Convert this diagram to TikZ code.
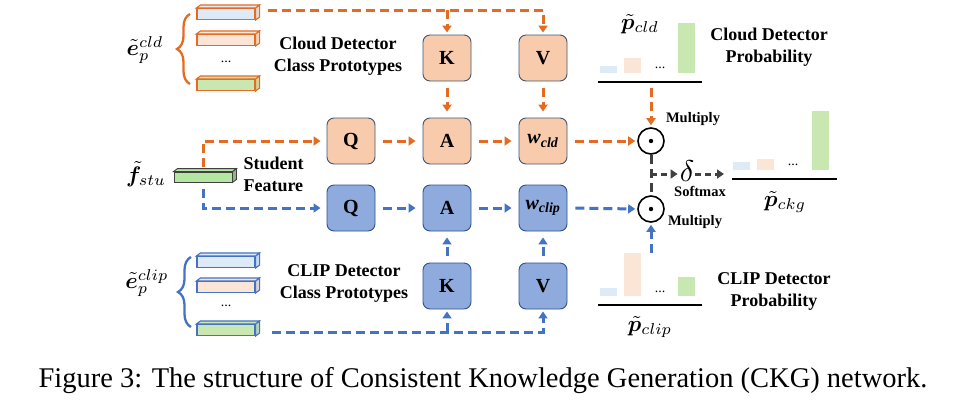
\documentclass[tikz,border=0pt]{standalone}
\usepackage{amsmath,bm}
\usepackage{fontspec}
\setmainfont{Liberation Serif}
\usetikzlibrary{arrows.meta,calc,decorations.pathreplacing}
\definecolor{oline}{HTML}{E46C22}
\definecolor{bline}{HTML}{4472C4}
\definecolor{opeach}{HTML}{F8CBAD}
\definecolor{bfill}{HTML}{8FAADC}
\definecolor{oborder}{HTML}{44546A}
\definecolor{bborder}{HTML}{2F528F}
\definecolor{lblue}{HTML}{DEEBF7}
\definecolor{lpeach}{HTML}{FBE5D6}
\definecolor{lgreen}{HTML}{C9E7B0}
\definecolor{sgreen}{HTML}{B4E5A2}
\definecolor{dgray}{HTML}{404040}
\newcommand{\mylbl}[1]{\scalebox{2.25}{$#1$}}
\begin{document}
\begin{tikzpicture}[x=1pt,y=-1pt,
  obox/.style={draw=oborder,fill=opeach,line width=0.9pt,rounded corners=7pt,minimum width=48pt,minimum height=46pt,inner sep=0pt,font=\bfseries\fontsize{20}{22}\selectfont},
  bbox/.style={obox,draw=bborder,fill=bfill},
  tipo/.style={-{Triangle[length=7pt,width=9pt]}},
  odash/.style={draw=oline,line width=3pt,dash pattern=on 9pt off 5pt,tipo},
  bdash/.style={odash,draw=bline},
  gdash/.style={odash,draw=dgray},
  pbar/.style={draw=#1,line width=1.1pt,minimum width=58pt,minimum height=11pt,inner sep=0pt},
  lbl/.style={font=\bfseries\fontsize{18}{22}\selectfont,align=center},
  small/.style={font=\bfseries\fontsize{14.5}{16}\selectfont},
  mlab/.style={font=\normalsize,inner sep=1pt},
  odotn/.style={circle,draw=black,line width=1.6pt,minimum size=26pt,inner sep=0pt},
  chartbar/.style={draw=none,minimum width=17pt,inner sep=0pt,anchor=south},
  baseln/.style={line width=2.2pt,draw=black},
  bracel/.style={line width=2.3pt,decorate,decoration={brace,amplitude=13pt}}
]
\useasboundingbox (0,0) rectangle (966,408);

% ---------- cloud prototypes ----------
\node[pbar=oline,fill=lblue]  (cb1) at (226,14) {};
\node[pbar=oline,fill=lpeach] (cb2) at (226,40) {};
\node[font=\fontsize{14}{14}\selectfont] (cdots) at (226,62) {...};
\node[pbar=oline,fill=lgreen] (cb3) at (226,85) {};
\foreach \b/\f in {cb1/lblue,cb2/lpeach,cb3/lgreen}{
  \draw[draw=oline,line width=1.1pt,fill=\f!85!oline] (\b.north east) -- ++(4,-3) -- ($(\b.south east)+(4,-3)$) -- (\b.south east) -- cycle;
  \draw[draw=oline,line width=1.1pt,fill=\f] (\b.north west) -- ++(4,-3) -- ($(\b.north east)+(4,-3)$) -- (\b.north east) -- cycle;
}
\coordinate (cbr1) at (190,84);
\coordinate (cbr2) at (190,14);
\draw[draw=oline,bracel] (cbr1) -- (cbr2);
\node[mlab] (ecld) at (145,50) {\mylbl{\tilde{\bm{e}}_p^{cld}}};
\node[lbl] (cldtxt) at (338,56) {Cloud Detector\\Class Prototypes};

% ---------- clip prototypes ----------
\node[pbar=bline,fill=lblue]  (pb1) at (226,262) {};
\node[pbar=bline,fill=lpeach] (pb2) at (226,287) {};
\node[font=\fontsize{14}{14}\selectfont] (pdots) at (226,306) {...};
\node[pbar=bline,fill=lgreen] (pb3) at (226,330) {};
\foreach \b/\f in {pb1/lblue,pb2/lpeach,pb3/lgreen}{
  \draw[draw=bline,line width=1.1pt,fill=\f!85!bline] (\b.north east) -- ++(4,-3) -- ($(\b.south east)+(4,-3)$) -- (\b.south east) -- cycle;
  \draw[draw=bline,line width=1.1pt,fill=\f] (\b.north west) -- ++(4,-3) -- ($(\b.north east)+(4,-3)$) -- (\b.north east) -- cycle;
}
\coordinate (pbr1) at (191,327);
\coordinate (pbr2) at (191,257);
\draw[draw=bline,bracel] (pbr1) -- (pbr2);
\node[mlab] (eclip) at (147,283) {\mylbl{\tilde{\bm{e}}_p^{clip}}};
\node[lbl] (cliptxt) at (344,283) {CLIP Detector\\Class Prototypes};

% ---------- student feature ----------
\node[draw=dgray,fill=sgreen,line width=0.9pt,minimum width=58pt,minimum height=10pt,inner sep=0pt] (stu) at (203,177) {};
\draw[draw=dgray,line width=0.9pt,fill=sgreen!80!black] (stu.north east) -- ++(4,-3) -- ($(stu.south east)+(4,-3)$) -- (stu.south east) -- cycle;
\draw[draw=dgray,line width=0.9pt,fill=sgreen] (stu.north west) -- ++(4,-3) -- ($(stu.north east)+(4,-3)$) -- (stu.north east) -- cycle;
\node[mlab] (fstu) at (146,174) {\mylbl{\tilde{\bm{f}}_{stu}}};
\node[lbl,align=left,anchor=west] (stutxt) at (240,174) {Student\\Feature};

% ---------- boxes ----------
\node[obox] (Qo) at (351,141) {Q};
\node[obox] (Ao) at (447,141) {A};
\node[obox] (Wo) at (543,141) {\textit{w}\textsubscript{\textit{cld}}};
\node[obox] (Ko) at (447,58) {K};
\node[obox] (Vo) at (543,58) {V};
\node[bbox] (Qb) at (351,208) {Q};
\node[bbox] (Ab) at (447,208) {A};
\node[bbox] (Wb) at (543,208) {\textit{w}\textsubscript{\textit{clip}}};
\node[bbox] (Kb) at (447,286) {K};
\node[bbox] (Vb) at (543,286) {V};

% ---------- orange connections ----------
\coordinate (otop) at (268,10);
\draw[odash,shorten >=2pt] (otop) -| (Vo.north);
\draw[odash,shorten >=2pt] (Ko.north |- otop) -- (Ko.north);
\draw[odash,shorten <=7pt,shorten >=6pt] (Ko.south) -- (Ao.north);
\draw[odash,shorten <=7pt,shorten >=6pt] (Vo.south) -- (Wo.north);
\draw[odash,shorten <=5pt,shorten >=6pt] (stu.north) |- (Qo.west);
\draw[odash,shorten <=8pt,shorten >=7pt] (Qo.east) -- (Ao.west);
\draw[odash,shorten <=8pt,shorten >=7pt] (Ao.east) -- (Wo.west);

% ---------- blue connections ----------
\coordinate (bbot) at (272,332);
\draw[bdash,shorten >=2pt] (bbot) -| (Vb.south);
\draw[bdash,shorten >=2pt] (Kb.south |- bbot) -- (Kb.south);
\draw[bdash,shorten <=7pt,shorten >=6pt] (Kb.north) -- (Ab.south);
\draw[bdash,shorten <=7pt,shorten >=6pt] (Vb.north) -- (Wb.south);
\draw[bdash,shorten <=7pt,shorten >=6pt] (stu.south) |- (Qb.west);
\draw[bdash,shorten <=8pt,shorten >=7pt] (Qb.east) -- (Ab.west);
\draw[bdash,shorten <=8pt,shorten >=7pt] (Ab.east) -- (Wb.west);

% ---------- multiply nodes ----------
\node[odotn] (mo) at (651,141) {};
\fill (mo.center) circle (2.2pt);
\node[odotn] (mb) at (651,209) {};
\fill (mb.center) circle (2.2pt);
\draw[odash,shorten <=8pt,shorten >=2pt] (Wo.east) -- (mo.west);
\draw[bdash,shorten <=8pt,shorten >=2pt] (Wb.east) -- (mb.west);
\node[small] (mult1) at (693,119) {Multiply};
\node[small] (mult2) at (695,222) {Multiply};

% ---------- softmax ----------
\node[mlab] (delta) at (687,171) {\scalebox{3}{$\delta$}};
\coordinate (gj) at (651,174);
\draw[odash,draw=dgray,-] (mo.south) -- (mb.north);
\draw[gdash,dash pattern=on 6pt off 4pt,shorten >=1pt] (gj) -- (delta.west |- gj);
\node[small] (soft) at (700,191) {Softmax};

% ---------- cloud probability chart ----------
\coordinate (cpl) at (598,82);
\coordinate (cpr) at (702,82);
\draw[baseln] (cpl) -- (cpr);
\node[chartbar,fill=lblue,minimum height=7pt]  (cpb1) at (608.5,73) {};
\node[chartbar,fill=lpeach,minimum height=15pt] (cpb2) at (632.5,73) {};
\node[font=\fontsize{14}{14}\selectfont] (cpd) at (660,68) {...};
\node[chartbar,fill=lgreen,minimum height=50pt] (cpb3) at (686.5,73) {};
\node[mlab] (pcld) at (640,24) {\mylbl{\tilde{\bm{p}}_{cld}}};
\draw[odash,shorten >=2pt] (651,88) -- (mo.north);
\node[lbl] (cldprob) at (769,47) {Cloud Detector\\Probability};

% ---------- clip probability chart ----------
\coordinate (ppl) at (598,305);
\coordinate (ppr) at (702,305);
\draw[baseln] (ppl) -- (ppr);
\node[chartbar,fill=lblue,minimum height=8pt]  (ppb1) at (608.5,296) {};
\node[chartbar,fill=lpeach,minimum height=43pt] (ppb2) at (632.5,296) {};
\node[font=\fontsize{14}{14}\selectfont] (ppd) at (660,292) {...};
\node[chartbar,fill=lgreen,minimum height=19pt] (ppb3) at (686.5,296) {};
\node[mlab] (pclip) at (650,327) {\mylbl{\tilde{\bm{p}}_{clip}}};
\draw[bdash,shorten >=2pt] (651,253) -- (mb.south);
\node[lbl] (clipprob) at (774,291) {CLIP Detector\\Probability};

% ---------- ckg chart ----------
\coordinate (kpl) at (732,179);
\coordinate (kpr) at (837,179);
\draw[baseln] (kpl) -- (kpr);
\node[chartbar,fill=lblue,minimum height=8pt]  (kpb1) at (741.5,170) {};
\node[chartbar,fill=lpeach,minimum height=11pt] (kpb2) at (765.5,170) {};
\node[font=\fontsize{14}{14}\selectfont] (kpd) at (793,165) {...};
\node[chartbar,fill=lgreen,minimum height=59pt] (kpb3) at (820.5,170) {};
\node[mlab] (pckg) at (785,202) {\mylbl{\tilde{\bm{p}}_{ckg}}};
\coordinate (kin) at (724,174);
\draw[gdash,dash pattern=on 6pt off 4pt] (delta.east |- kin) -- (kin);

% ---------- caption ----------
\node[font=\fontsize{28.5}{30}\selectfont] (cap) at (483,381) {Figure 3: The structure of Consistent Knowledge Generation (CKG) network.};
\end{tikzpicture}
\end{document}
